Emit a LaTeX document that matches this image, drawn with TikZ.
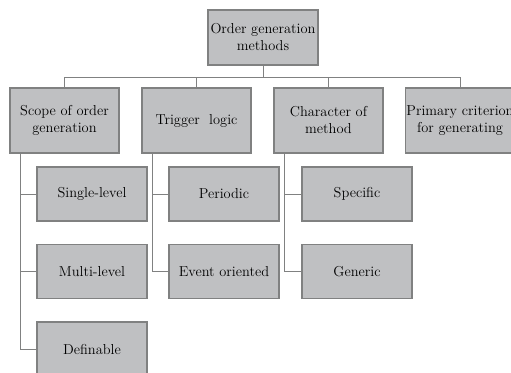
\documentclass[tikz,border=0pt]{standalone}
\definecolor{boxgray}{RGB}{191,192,194}
\definecolor{linegray}{RGB}{128,129,129}
\begin{document}
\begin{tikzpicture}[x=1pt,y=-1pt,
    box/.style={draw=linegray,line width=1.5pt,fill=boxgray,minimum width=109pt,minimum height=#1,
        inner sep=0pt,align=center,text=black,font=\fontsize{14.4}{17}\selectfont},
    conn/.style={draw=linegray,line width=1pt}]
\useasboundingbox (0,0) rectangle (511,372);
\clip (0,0) rectangle (511,372);
\node[box=55pt,minimum width=110pt] (top) at (263,37.5) {Order generation\\methods};
\foreach \n/\x/\t in {l1/64.5/{Scope of order\\generation}, l2/196.5/{Trigger\ \ logic},
    l3/328.5/{Character of\\method}, l4/460/{Primary criterion\\for generating}}
{
    \node[box=65pt] (\n) at (\x,120.5) {\t};
}
\foreach \n/\x/\y/\t in {c11/92/194/Single-level, c12/92/271.5/Multi-level, c13/92/349/Definable,
    c21/224/194/Periodic, c22/224/271.5/Event oriented,
    c31/357/194/Specific, c32/357/271.5/Generic}
{
    \node[box=54pt,minimum width=110pt] (\n) at (\x,\y) {\t};
}
\foreach \n in {l1,l2,l3,l4}
{
    \draw[conn] (top.south) -- ++(0,12) -| (\n.north);
}
\foreach \p/\c in {l1/c11, l1/c12, l1/c13, l2/c21, l2/c22, l3/c31, l3/c32}
{
    \draw[conn] ([xshift=11pt]\p.south west) |- (\c.west);
}
\end{tikzpicture}
\end{document}
